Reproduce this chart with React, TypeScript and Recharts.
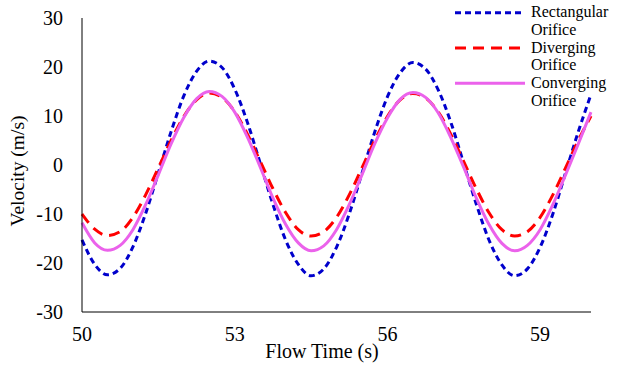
import React from 'react';
import { LineChart, Line, XAxis, YAxis, Label } from 'recharts';

// flow time (s), sampled every 0.25 s
const flowTime = [
  50, 50.25, 50.5, 50.75, 51, 51.25, 51.5, 51.75, 52, 52.25, 52.5, 52.75,
  53, 53.25, 53.5, 53.75, 54, 54.25, 54.5, 54.75, 55, 55.25, 55.5, 55.75,
  56, 56.25, 56.5, 56.75, 57, 57.25, 57.5, 57.75, 58, 58.25, 58.5, 58.75,
  59, 59.25, 59.5, 59.75, 60,
];

const rectangular = [
  -15.3, -20.3, -22.4, -21.1, -16.7, -9.9, -1.6, 6.8, 14.1, 19.1, 21.2, 19.9,
  15.5, 8.7, 0.4, -8.0, -15.3, -20.3, -22.6, -21.2, -16.8, -10.0, -1.7, 6.7,
  13.9, 18.8, 20.9, 19.6, 15.3, 8.6, 0.3, -8.1, -15.4, -20.4, -22.6, -21.2,
  -16.8, -10.0, -1.6, 6.8, 14.4,
];

const diverging = [
  -10.0, -13.1, -14.4, -13.6, -10.7, -6.1, -0.6, 5.0, 9.9, 13.3, 14.7, 13.8,
  10.9, 6.3, 0.8, -4.8, -9.7, -13.2, -14.5, -13.6, -10.7, -6.1, -0.6, 5.0,
  9.9, 13.3, 14.6, 13.7, 10.8, 6.2, 0.7, -4.9, -9.8, -13.2, -14.5, -13.6,
  -10.7, -6.1, -0.6, 5.0, 10.0,
];

const converging = [
  -11.8, -15.9, -17.4, -16.4, -13.2, -8.1, -2.0, 4.3, 9.7, 13.5, 15.0, 14.0,
  10.8, 5.7, -0.4, -6.7, -12.1, -15.9, -17.5, -16.5, -13.2, -8.1, -2.0, 4.3,
  9.6, 13.4, 14.8, 13.8, 10.6, 5.5, -0.5, -6.8, -12.2, -16.0, -17.5, -16.4,
  -13.2, -8.1, -2.0, 4.3, 10.8,
];

const xTicks = [50, 53, 56, 59];
const yTicks = [-30, -20, -10, 0, 10, 20, 30];

const series = [
  { key: 'rect', name: 'Rectangular Orifice', color: '#0000CC', dash: '6 4' },
  { key: 'div', name: 'Diverging Orifice', color: '#FF0000', dash: '11 7' },
  { key: 'conv', name: 'Converging Orifice', color: '#EB62EB', dash: undefined },
];

const chartData = flowTime.map((t, i) => ({
  t,
  rect: rectangular[i],
  div: diverging[i],
  conv: converging[i],
}));

const font = 'Liberation Serif, serif';
const textStyle = { fontFamily: font };

const App: React.FC = () => {
  return (
    <div style={{ position: 'absolute', left: 0, top: 0, width: 622, height: 372, background: '#fff', fontFamily: font }}>
      <LineChart
        width={622}
        height={372}
        data={chartData}
        margin={{ top: 18, right: 31, left: 0, bottom: 0 }}
        style={textStyle}
      >
        <XAxis
          dataKey="t"
          type="number"
          domain={[50, 60]}
          ticks={xTicks}
          height={60}
          tickLine={false}
          axisLine={{ stroke: '#000', strokeWidth: 1 }}
          tick={{ fill: '#000', fontSize: 20, style: textStyle }}
          tickMargin={9}
        >
          <Label
            content={() => (
              <text x={322} y={358} textAnchor="middle" fill="#000" fontSize={20} style={textStyle}>
                Flow Time (s)
              </text>
            )}
          />
        </XAxis>
        <YAxis
          type="number"
          domain={[-30, 30]}
          ticks={yTicks}
          width={82}
          tickLine={false}
          axisLine={{ stroke: '#000', strokeWidth: 1 }}
          tick={{ fill: '#000', fontSize: 20, style: textStyle }}
          tickMargin={13}
        >
          <Label
            content={() => (
              <text transform="translate(24,171) rotate(-90)" textAnchor="middle" fill="#000" fontSize={19.5} style={textStyle}>
                Velocity (m/s)
              </text>
            )}
          />
        </YAxis>
        {series.map((s) => (
          <Line
            key={s.key}
            dataKey={s.key}
            name={s.name}
            type="monotone"
            stroke={s.color}
            strokeWidth={3}
            strokeDasharray={s.dash}
            dot={false}
            isAnimationActive={false}
          />
        ))}
      </LineChart>
      {/* legend overlay, top right */}
      <svg width={170} height={110} style={{ position: 'absolute', left: 452, top: 0 }}>
        {series.map((s, i) => {
          const [w1, w2] = s.name.split(' ');
          const y = 12.7 + i * 35.3;
          return (
            <g key={s.key}>
              <line x1={3} y1={y} x2={73} y2={y} stroke={s.color} strokeWidth={3} strokeDasharray={s.dash} />
              <text x={79} y={y + 4.6} fontSize={16} fill="#000" style={textStyle}>{w1}</text>
              <text x={79} y={y + 22.3} fontSize={16} fill="#000" style={textStyle}>{w2}</text>
            </g>
          );
        })}
      </svg>
    </div>
  );
};

export default App;
